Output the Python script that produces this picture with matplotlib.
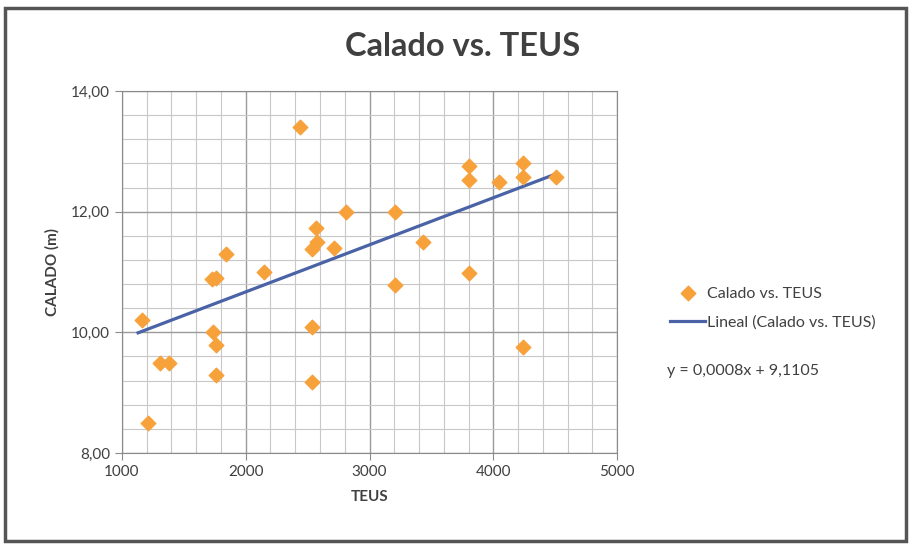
import matplotlib.pyplot as plt
import numpy as np
from matplotlib.ticker import MultipleLocator, FuncFormatter
from matplotlib.patches import Rectangle

plt.rcParams['font.family'] = ['Lato', 'DejaVu Sans']

# data
teus = [1160, 1210, 1310, 1380, 1735, 1730, 1757, 1757, 1760, 1840,
        2147, 2441, 2565, 2573, 2538, 2716, 2807, 2538, 2538,
        3206, 3435, 3206, 3804, 3804, 3804, 4046, 4243, 4243, 4243, 4504]
calado = [10.2, 8.5, 9.5, 9.5, 10.0, 10.88, 10.9, 9.79, 9.3, 11.3,
          11.0, 13.4, 11.73, 11.5, 11.38, 11.39, 11.99, 10.09, 9.17,
          11.99, 11.5, 10.78, 12.76, 12.52, 10.99, 12.5, 12.8, 12.58, 9.75, 12.58]

# linear trend (Excel "Lineal"), slope shown rounded as 0,0008
slope = 0.00078
intercept = 9.1105

orange = '#F7A13A'
blue = '#4A62A6'
text_col = '#404040'

fig = plt.figure(figsize=(9.11, 5.45), dpi=100)
ax = fig.add_axes([0.1339, 0.1688, 0.5434, 0.6642])

xl = np.array([min(teus) - 30, max(teus)])
ax.plot(xl, slope * xl + intercept, color=blue, lw=2.3, zorder=2, label='Lineal (Calado vs. TEUS)')
ax.scatter(teus, calado, marker='D', s=55, color=orange, zorder=3, label='Calado vs. TEUS')

ax.set_xlim(1000, 5000)
ax.set_ylim(8, 14)
ax.xaxis.set_major_locator(MultipleLocator(1000))
ax.xaxis.set_minor_locator(MultipleLocator(200))
ax.yaxis.set_major_locator(MultipleLocator(2))
ax.yaxis.set_minor_locator(MultipleLocator(0.4))
ax.yaxis.set_major_formatter(FuncFormatter(lambda v, p: f'{v:.2f}'.replace('.', ',')))
ax.grid(which='major', color='#9a9a9a', lw=1.0)
ax.grid(which='minor', color='#c8c8c8', lw=0.8)
ax.set_axisbelow(True)
for s in ax.spines.values():
    s.set_color('#8a8a8a')
ax.tick_params(which='major', length=5, color='#8a8a8a', labelsize=11, labelcolor=text_col)
ax.tick_params(which='minor', length=0)

ax.set_xlabel('TEUS', fontsize=11, fontweight='bold', color=text_col, labelpad=8)
ax.set_ylabel('CALADO (m)', fontsize=11, fontweight='bold', color=text_col, labelpad=8)
fig.text(0.508, 0.915, 'Calado vs. TEUS', ha='center', va='center',
         fontsize=23.5, fontweight='bold', color=text_col)

h, l = ax.get_legend_handles_labels()
leg = fig.legend(h[::-1], l[::-1], loc='center left', bbox_to_anchor=(0.72, 0.435),
                 frameon=False, fontsize=11.5, handlelength=2.2, handletextpad=0.1,
                 labelspacing=0.9)
for t in leg.get_texts():
    t.set_color(text_col)
fig.text(0.732, 0.32, 'y = 0,0008x + 9,1105', fontsize=11.5, color=text_col, va='center')

# outer chart border
fig.patches.append(Rectangle((0.006, 0.008), 0.988, 0.978, transform=fig.transFigure,
                             fill=False, edgecolor='#555555', lw=2.5))

fig.savefig('out.png', dpi=100)
